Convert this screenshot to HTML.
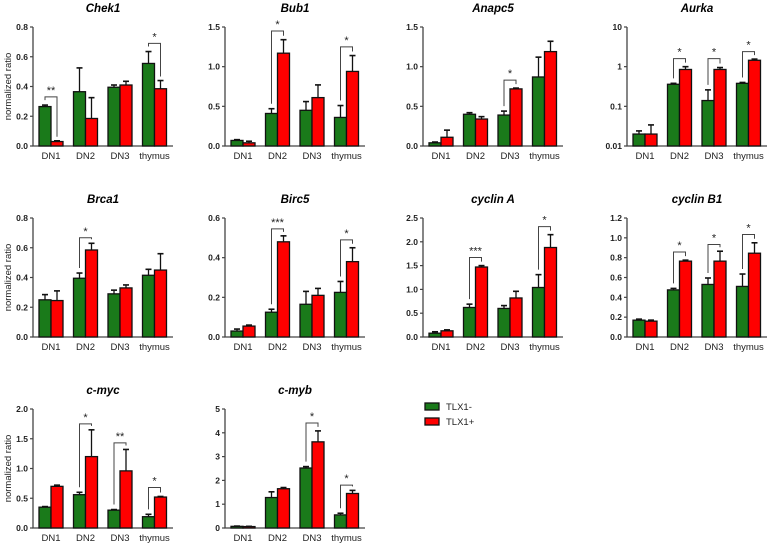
<!DOCTYPE html>
<html><head><meta charset="utf-8">
<style>
html,body{margin:0;padding:0;background:#fff;}
svg{display:block;font-family:"Liberation Sans",Arial,sans-serif;}
</style></head>
<body>
<svg id="chart" width="773" height="547" viewBox="0 0 773 547"></svg>
<script>
const categories = ["DN1","DN2","DN3","thymus"];
const seriesNames = ["TLX1-","TLX1+"];

const chek1Green=[0.265,0.365,0.395,0.555], chek1GreenErr=[0.275,0.525,0.41,0.635];
const chek1Red=[0.03,0.185,0.41,0.385], chek1RedErr=[0.035,0.325,0.435,0.44];
const chek1Ticks=["0.0","0.2","0.4","0.6","0.8"];
const chek1Sig=[[0,0.33,"**"],[3,0.69,"*"]];

const bub1Green=[0.07,0.41,0.45,0.36], bub1GreenErr=[0.08,0.47,0.56,0.51];
const bub1Red=[0.04,1.17,0.61,0.94], bub1RedErr=[0.06,1.34,0.77,1.14];
const bub1Ticks=["0.0","0.5","1.0","1.5"];
const bub1Sig=[[1,1.45,"*"],[3,1.25,"*"]];

const anapc5Green=[0.04,0.40,0.39,0.87], anapc5GreenErr=[0.05,0.42,0.44,1.12];
const anapc5Red=[0.11,0.34,0.72,1.19], anapc5RedErr=[0.20,0.37,0.73,1.32];
const anapc5Ticks=["0.0","0.5","1.0","1.5"];
const anapc5Sig=[[2,0.83,"*"]];

const aurkaGreen=[0.02,0.36,0.14,0.38], aurkaGreenErr=[0.024,0.38,0.26,0.40];
const aurkaRed=[0.02,0.85,0.85,1.45], aurkaRedErr=[0.034,1.0,0.95,1.55];
const aurkaTicks=["0.01","0.1","1","10"];
const aurkaSig=[[1,1.6,"*"],[2,1.6,"*"],[3,2.4,"*"]];

const brca1Green=[0.25,0.395,0.29,0.415], brca1GreenErr=[0.285,0.43,0.315,0.455];
const brca1Red=[0.245,0.585,0.33,0.45], brca1RedErr=[0.31,0.63,0.35,0.56];
const brca1Ticks=["0.0","0.2","0.4","0.6","0.8"];
const brca1Sig=[[1,0.667,"*"]];

const birc5Green=[0.03,0.125,0.165,0.225], birc5GreenErr=[0.04,0.14,0.23,0.28];
const birc5Red=[0.055,0.48,0.21,0.38], birc5RedErr=[0.06,0.51,0.245,0.45];
const birc5Ticks=["0.0","0.2","0.4","0.6"];
const birc5Sig=[[1,0.545,"***"],[3,0.49,"*"]];

const cycAGreen=[0.08,0.62,0.60,1.04], cycAGreenErr=[0.11,0.69,0.66,1.31];
const cycARed=[0.13,1.47,0.82,1.88], cycARedErr=[0.15,1.50,0.96,2.15];
const cycATicks=["0.0","0.5","1.0","1.5","2.0","2.5"];
const cycASig=[[1,1.67,"***"],[3,2.32,"*"]];

const cycB1Green=[0.17,0.475,0.53,0.51], cycB1GreenErr=[0.18,0.49,0.595,0.635];
const cycB1Red=[0.16,0.765,0.765,0.845], cycB1RedErr=[0.17,0.775,0.865,0.95];
const cycB1Ticks=["0.0","0.2","0.4","0.6","0.8","1.0","1.2"];
const cycB1Sig=[[1,0.857,"*"],[2,0.933,"*"],[3,1.033,"*"]];

const mycGreen=[0.35,0.56,0.30,0.19], mycGreenErr=[0.36,0.60,0.31,0.23];
const mycRed=[0.70,1.20,0.96,0.52], mycRedErr=[0.72,1.65,1.32,0.53];
const mycTicks=["0.0","0.5","1.0","1.5","2.0"];
const mycSig=[[1,1.75,"*"],[2,1.43,"**"],[3,0.68,"*"]];

const mybGreen=[0.07,1.28,2.52,0.55], mybGreenErr=[0.08,1.52,2.58,0.62];
const mybRed=[0.06,1.65,3.62,1.45], mybRedErr=[0.07,1.70,4.08,1.58];
const mybTicks=["0","1","2","3","4","5"];
const mybSig=[[2,4.41,"*"],[3,1.80,"*"]];

const NS="http://www.w3.org/2000/svg";
const svg=document.getElementById("chart");
function mk(tag,attrs,parent){const e=document.createElementNS(NS,tag);for(const k in attrs)e.setAttribute(k,attrs[k]);(parent||svg).appendChild(e);return e;}

const panels=[
 {id:"chek1",title:"Chek1",x:33,y:27,g:chek1Green,ge:chek1GreenErr,r:chek1Red,re:chek1RedErr,t:chek1Ticks,s:chek1Sig,ylab:true},
 {id:"bub1",title:"Bub1",x:225,y:27,g:bub1Green,ge:bub1GreenErr,r:bub1Red,re:bub1RedErr,t:bub1Ticks,s:bub1Sig},
 {id:"anapc5",title:"Anapc5",x:423,y:27,g:anapc5Green,ge:anapc5GreenErr,r:anapc5Red,re:anapc5RedErr,t:anapc5Ticks,s:anapc5Sig},
 {id:"aurka",title:"Aurka",x:627,y:27,g:aurkaGreen,ge:aurkaGreenErr,r:aurkaRed,re:aurkaRedErr,t:aurkaTicks,s:aurkaSig,log:true},
 {id:"brca1",title:"Brca1",x:33,y:218,g:brca1Green,ge:brca1GreenErr,r:brca1Red,re:brca1RedErr,t:brca1Ticks,s:brca1Sig,ylab:true},
 {id:"birc5",title:"Birc5",x:225,y:218,g:birc5Green,ge:birc5GreenErr,r:birc5Red,re:birc5RedErr,t:birc5Ticks,s:birc5Sig},
 {id:"cyclin-a",title:"cyclin  A",x:423,y:218,g:cycAGreen,ge:cycAGreenErr,r:cycARed,re:cycARedErr,t:cycATicks,s:cycASig},
 {id:"cyclin-b1",title:"cyclin  B1",x:627,y:218,g:cycB1Green,ge:cycB1GreenErr,r:cycB1Red,re:cycB1RedErr,t:cycB1Ticks,s:cycB1Sig},
 {id:"c-myc",title:"c-myc",x:33,y:409,g:mycGreen,ge:mycGreenErr,r:mycRed,re:mycRedErr,t:mycTicks,s:mycSig,ylab:true},
 {id:"c-myb",title:"c-myb",x:225,y:409,g:mybGreen,ge:mybGreenErr,r:mybRed,re:mybRedErr,t:mybTicks,s:mybSig}
];

const W=140,H=119,STEP=34.5,OFF=18,BW=12;
panels.forEach(p=>{
  const grp=mk("g",{});
  
  
  const base=p.y+H;
  const tmin=parseFloat(p.t[0]),tmax=parseFloat(p.t[p.t.length-1]);
  const yS=p.log?(v=>base-(Math.log10(v)-Math.log10(tmin))/(Math.log10(tmax)-Math.log10(tmin))*H):(v=>base-(v-tmin)/(tmax-tmin)*H);
  const xC=i=>p.x+OFF+i*STEP;
  const title=mk("text",{x:p.x+W/2,y:p.y-15,"text-anchor":"middle","font-size":"11.5","font-weight":"bold","font-style":"italic","xml:space":"preserve"},grp);
  title.textContent=p.title;
  
  
  const ax=mk("path",{d:`M${p.x} ${p.y}V${base}H${p.x+W}`,stroke:"#444",fill:"none","stroke-width":"1.3"},grp);
  
  
  p.t.forEach(t=>{
    const yy=yS(parseFloat(t));
    mk("line",{x1:p.x-3,x2:p.x,y1:yy,y2:yy,stroke:"#444","stroke-width":"1.2"},grp);
    const tl=mk("text",{x:p.x-5,y:yy+3,"text-anchor":"end","font-size":"8.5","font-weight":"bold",fill:"#222"},grp);
    tl.textContent=t;
    
    
  });
  categories.forEach((c,i)=>{
    const cl=mk("text",{x:xC(i),y:base+13,"text-anchor":"middle","font-size":"9.5",fill:"#222"},grp);
    cl.textContent=c;
    
    
    [[p.g,p.ge,"#1a7a1a",-1],[p.r,p.re,"#ff0000",0]].forEach(([vals,errs,col,o])=>{
      const bx=xC(i)+o*BW;
      const cx=bx+BW/2;
      mk("line",{x1:cx,x2:cx,y1:yS(vals[i]),y2:yS(errs[i]),stroke:"#111","stroke-width":"1.3"},grp);
      mk("line",{x1:cx-3,x2:cx+3,y1:yS(errs[i]),y2:yS(errs[i]),stroke:"#111","stroke-width":"1.6"},grp);
      const top=yS(vals[i]);
      const b=mk("rect",{x:bx,y:top,width:BW,height:Math.max(base-top,0.5),fill:col,stroke:"#111","stroke-width":"1.3"},grp);
      
      
    });
  });
  p.s.forEach(([i,v,star])=>{
    const gx=xC(i)-BW/2, rx=xC(i)+BW/2, ty=yS(v);
    const br=mk("path",{d:`M${gx} ${yS(p.ge[i])-5}V${ty}H${rx}V${yS(p.re[i])-4}`,stroke:"#444",fill:"none","stroke-width":"1"},grp);
    
    
    const st=mk("text",{x:xC(i),y:ty-3,"text-anchor":"middle","font-size":"11",fill:"#222"},grp);
    st.textContent=star;
    
    
  });
  if(p.ylab){
    const yl=mk("text",{x:0,y:0,transform:`translate(11 ${p.y+H/2}) rotate(-90)`,"text-anchor":"middle","font-size":"9.5",fill:"#222"},grp);
    yl.textContent="normalized ratio";
    
    
  }
});

const lg=mk("g",{});


[["#1a7a1a",403],["#ff0000",418]].forEach(([col,yy],k)=>{
  const e=mk("g",{},lg);
  
  
  mk("rect",{x:425,y:yy,width:14,height:7,fill:col,stroke:"#111","stroke-width":"1.3"},e);
  const t=mk("text",{x:446,y:yy+7,"font-size":"9.5",fill:"#222"},e);
  t.textContent=seriesNames[k];
});
</script>
</body></html>
